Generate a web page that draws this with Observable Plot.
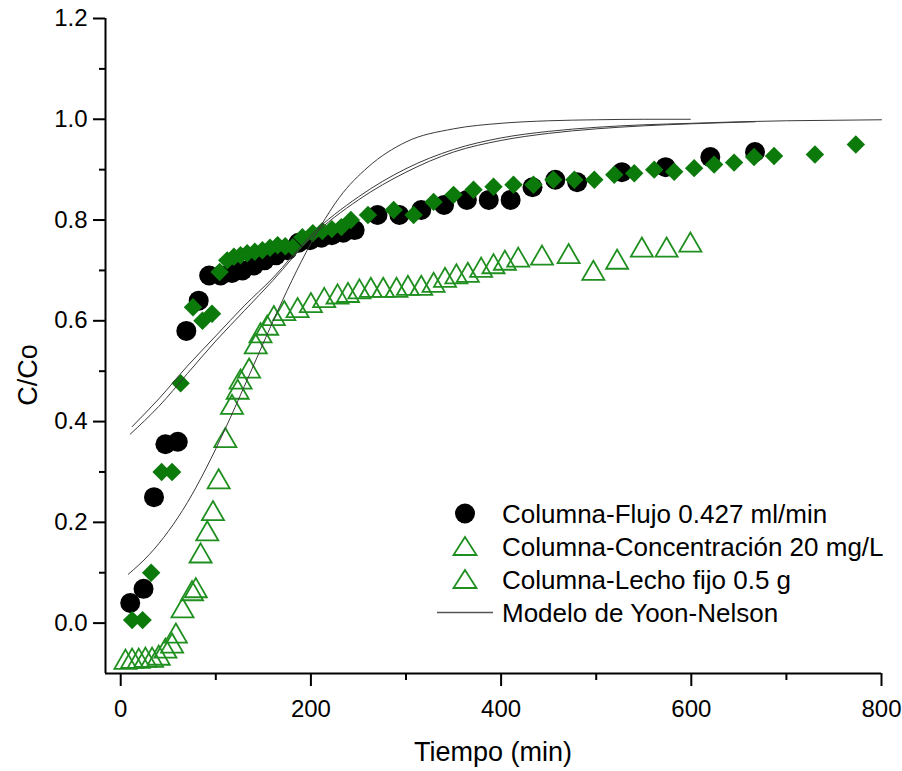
<!DOCTYPE html>
<html><head><meta charset="utf-8">
<script src="https://cdn.jsdelivr.net/npm/d3@7"></script>
<script src="https://cdn.jsdelivr.net/npm/@observablehq/plot@0.6"></script>
<style>
body{margin:0;background:#fff;font-family:"Liberation Sans",Arial,sans-serif;}
#wrap{position:relative;width:902px;height:771px;}
#legend{position:absolute;left:437px;top:497px;font-size:26px;color:#000;line-height:1;}
.row{display:flex;align-items:center;height:33px;white-space:nowrap;}
.row svg{width:56px;height:33px;margin-right:9px;flex:none;}
#xt{position:absolute;left:105px;width:776px;top:737px;line-height:30px;text-align:center;font-size:27px;color:#000;}
#yt{position:absolute;left:28px;top:375px;transform:translate(-50%,-50%) rotate(-90deg);font-size:27px;line-height:1;white-space:nowrap;color:#000;}
</style></head><body>
<div id="wrap"><div id="legend"></div><div id="xt"></div><div id="yt"></div></div>
<script>
// ---- data ----
const flujoX = [10, 24, 35, 47, 60, 69, 82, 93, 105, 117, 128, 140, 151, 163, 175, 187, 199, 211, 222, 234, 246, 270, 293, 316, 340, 364, 387, 410, 433, 457, 480, 527, 573, 620, 667];
const flujoY = [0.04, 0.068, 0.25, 0.355, 0.36, 0.58, 0.64, 0.69, 0.69, 0.695, 0.70, 0.71, 0.72, 0.73, 0.74, 0.755, 0.76, 0.765, 0.77, 0.775, 0.78, 0.81, 0.81, 0.82, 0.83, 0.84, 0.84, 0.84, 0.865, 0.88, 0.875, 0.895, 0.905, 0.925, 0.935];

const concX = [12, 23, 32, 43, 54, 63, 76, 86, 96, 104, 112, 119, 126, 133, 141, 149, 157, 165, 173, 181, 191, 202, 212, 222, 232, 242, 260, 287, 308, 329, 350, 371, 392, 413, 434, 455, 477, 498, 519, 540, 561, 582, 603, 624, 645, 666, 687, 730, 773];
const concY = [0.006, 0.006, 0.1, 0.3, 0.3, 0.476, 0.627, 0.6, 0.614, 0.697, 0.72, 0.727, 0.73, 0.734, 0.737, 0.74, 0.745, 0.75, 0.748, 0.746, 0.766, 0.774, 0.778, 0.782, 0.786, 0.8, 0.81, 0.82, 0.81, 0.836, 0.85, 0.86, 0.866, 0.87, 0.87, 0.88, 0.88, 0.88, 0.89, 0.893, 0.9, 0.896, 0.903, 0.91, 0.914, 0.925, 0.927, 0.93, 0.95];

const lechoX = [5, 12, 19, 26, 33, 40, 47, 54, 58, 65, 75, 79, 84, 91, 97, 103, 110, 117, 123, 126, 135, 142, 147, 154, 161, 172, 186, 200, 214, 228, 239, 251, 263, 276, 290, 302, 316, 329, 341, 353, 365, 379, 392, 404, 418, 443, 471, 497, 522, 548, 574, 599];
const lechoY = [-0.078, -0.076, -0.076, -0.074, -0.074, -0.07, -0.056, -0.046, -0.026, 0.024, 0.058, 0.064, 0.133, 0.177, 0.217, 0.28, 0.362, 0.428, 0.458, 0.478, 0.5, 0.548, 0.57, 0.585, 0.604, 0.614, 0.62, 0.63, 0.64, 0.647, 0.65, 0.657, 0.66, 0.66, 0.66, 0.664, 0.664, 0.67, 0.68, 0.687, 0.69, 0.7, 0.707, 0.714, 0.72, 0.724, 0.727, 0.694, 0.716, 0.74, 0.74, 0.75];

// Yoon-Nelson model curves
const ynFlujoX = [10, 40, 70, 100, 130, 160, 200, 250, 300, 350, 400, 450, 500, 550, 600, 667];
const ynFlujoY = [0.375, 0.43, 0.495, 0.56, 0.62, 0.68, 0.765, 0.84, 0.895, 0.935, 0.958, 0.972, 0.981, 0.987, 0.991, 0.995];
const ynConcX = [12, 40, 70, 100, 130, 160, 200, 250, 300, 350, 400, 450, 500, 550, 600, 650, 700, 750, 800];
const ynConcY = [0.39, 0.445, 0.51, 0.57, 0.63, 0.685, 0.77, 0.846, 0.902, 0.94, 0.963, 0.976, 0.984, 0.989, 0.992, 0.995, 0.997, 0.998, 0.999];
const ynLechoX = [8, 30, 50, 70, 90, 110, 130, 150, 170, 190, 210, 230, 260, 300, 350, 400, 450, 500, 550, 599];
const ynLechoY = [0.097, 0.136, 0.182, 0.239, 0.308, 0.386, 0.47, 0.556, 0.64, 0.718, 0.787, 0.845, 0.905, 0.955, 0.981, 0.992, 0.997, 0.999, 1.0, 1.0];

const xMajor = [0, 200, 400, 600, 800];
const xMinor = [100, 300, 500, 700];
const yMajor = [0, 0.2, 0.4, 0.6, 0.8, 1.0, 1.2];
const yMinor = [0.1, 0.3, 0.5, 0.7, 0.9, 1.1];
const xDomain = [-16, 800];
const yDomain = [-0.1, 1.2];

const legendLabels = ["Columna-Flujo 0.427 ml/min", "Columna-Concentración 20 mg/L", "Columna-Lecho fijo 0.5 g", "Modelo de Yoon-Nelson"];
const xLabel = "Tiempo (min)";
const yLabel = "C/Co";

// ---- build tables ----
const pts = (xs, ys) => xs.map((x, i) => ({x, y: ys[i]}));
const flujo = pts(flujoX, flujoY);
const conc = pts(concX, concY);
const lecho = pts(lechoX, lechoY);
const lineStyle = {x: "x", y: "y", stroke: "#3a3a3a", strokeWidth: 1, curve: "monotone-x"};
const green = "#0b7a0b";
const triGreen = "#1f8f1f";

const chart = Plot.plot({
  width: 902, height: 771,
  marginLeft: 105, marginRight: 21, marginTop: 18, marginBottom: 98,
  style: {fontFamily: '"Liberation Sans", Arial, sans-serif', fontSize: "24px", color: "#000", background: "#fff", overflow: "visible"},
  x: {domain: xDomain},
  y: {domain: yDomain},
  marks: [
    Plot.axisX({ticks: xMajor, tickSize: 13, tickPadding: 13, strokeWidth: 2, fontSize: 24, tickFormat: d3.format("d"), label: null}),
    Plot.axisX({ticks: xMinor, tickSize: 7, strokeWidth: 2, text: null, label: null}),
    Plot.axisY({ticks: yMajor, tickSize: 12, tickPadding: 6, strokeWidth: 2, fontSize: 24, tickFormat: d3.format(".1f"), label: null}),
    Plot.axisY({ticks: yMinor, tickSize: 6, strokeWidth: 2, text: null, label: null}),
    Plot.ruleX([xDomain[0]], {strokeWidth: 2}),
    Plot.ruleY([yDomain[0]], {strokeWidth: 2}),
    Plot.dot(lecho, {x: "x", y: "y", symbol: "triangle", r: 8.2, stroke: triGreen, strokeWidth: 1.8, fill: "none"}),
    Plot.dot(flujo, {x: "x", y: "y", r: 10, fill: "#000", stroke: "none"}),
    Plot.dot(conc, {x: "x", y: "y", symbol: "diamond2", r: 8.3, fill: green, stroke: "none"}),
    Plot.line(pts(ynFlujoX, ynFlujoY), lineStyle),
    Plot.line(pts(ynConcX, ynConcY), lineStyle),
    Plot.line(pts(ynLechoX, ynLechoY), lineStyle)
  ]
});
document.getElementById("wrap").prepend(chart);
document.getElementById("xt").textContent = xLabel;
document.getElementById("yt").textContent = yLabel;

// ---- legend ----
const symbols = [
  '<circle cx="28" cy="16.5" r="10" fill="#000"/>',
  '<polygon points="28,7 39.5,25 16.5,25" fill="none" stroke="' + triGreen + '" stroke-width="1.8"/>',
  '<polygon points="28,7 39.5,25 16.5,25" fill="none" stroke="' + triGreen + '" stroke-width="1.8"/>',
  '<line x1="0" x2="56" y1="16.5" y2="16.5" stroke="#555" stroke-width="1.3"/>'
];
const legend = document.getElementById("legend");
legendLabels.forEach((t, i) => {
  const row = document.createElement("div");
  row.className = "row";
  row.innerHTML = '<svg viewBox="0 0 56 33">' + symbols[i] + '</svg><span></span>';
  row.querySelector("span").textContent = t;
  legend.appendChild(row);
});
</script>
</body></html>
